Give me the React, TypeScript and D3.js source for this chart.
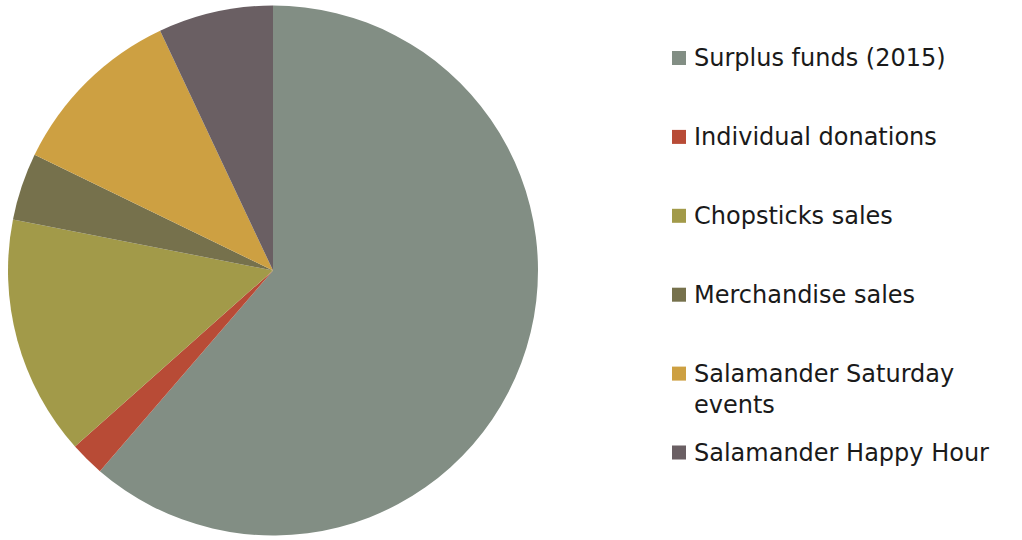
import React from "react";
import * as d3 from "d3";

const categories = [
  "Surplus funds (2015)",
  "Individual donations",
  "Chopsticks sales",
  "Merchandise sales",
  "Salamander Saturday events",
  "Salamander Happy Hour",
];
const values = [61.3, 2.1, 14.65, 4.1, 10.8, 7.0];
const colors = ["#828E84", "#B84B36", "#A29A49", "#76714C", "#CDA042", "#6A5F63"];
const legendLines = [
  ["Surplus funds (2015)"],
  ["Individual donations"],
  ["Chopsticks sales"],
  ["Merchandise sales"],
  ["Salamander Saturday", "events"],
  ["Salamander Happy Hour"],
];

export default function App() {
  const W = 1022, H = 540;
  const cx = 273, cy = 270.5, r = 265;
  const pie = d3.pie<number>().sort(null).value((d) => d)(values);
  const arc = d3.arc<d3.PieArcDatum<number>>().innerRadius(0).outerRadius(r);
  const legendY = d3.scalePoint<number>().domain(d3.range(categories.length)).range([58, 452.5]);
  return (
    <svg width={W} height={H} style={{ position: "absolute", left: 0, top: 0 }}>
      <rect width={W} height={H} fill="#fff" />
      <g transform={`translate(${cx},${cy})`}>
        {pie.map((p, i) => (
          <path key={i} d={arc(p) || ""} fill={colors[i]} />
        ))}
      </g>
      <g fontFamily="DejaVu Sans" fontSize={24} fill="#1a1a1a">
        {categories.map((c, i) => {
          const y = legendY(i)!;
          return (
            <g key={c}>
              <rect x={672} y={y - 7} width={14} height={14} fill={colors[i]} />
              {legendLines[i].map((ln, j) => (
                <text key={j} x={694} y={y + 8 + j * 31}>{ln}</text>
              ))}
            </g>
          );
        })}
      </g>
    </svg>
  );
}
